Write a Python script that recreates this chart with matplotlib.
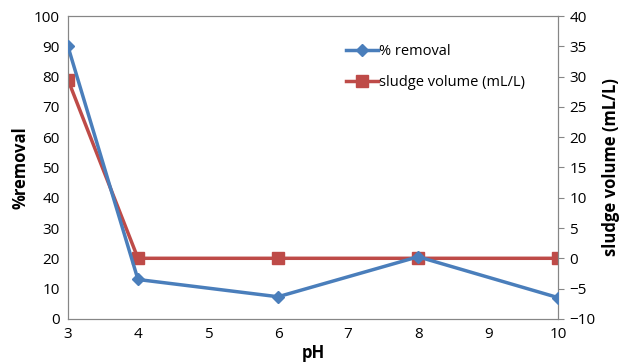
import matplotlib.pyplot as plt

plt.rcParams['font.family'] = ['Open Sans', 'DejaVu Sans']

ph = [3, 4, 6, 8, 10]
removal = [90, 13, 7.3, 20.5, 7]
sludge = [29.5, 0, 0, 0, 0]

blue = '#4a7ebb'
red = '#be4b48'
gray = '#868686'

fig = plt.figure(figsize=(6.23, 3.64), dpi=100)
ax = fig.add_axes([0.109, 0.124, 0.787, 0.832])
ax2 = ax.twinx()

l1, = ax.plot(ph, removal, color=blue, lw=2.5, marker='D', ms=6, label='% removal', zorder=3)
l2, = ax2.plot(ph, sludge, color=red, lw=2.5, marker='s', ms=8, label='sludge volume (mL/L)', zorder=2)
ax.set_zorder(ax2.get_zorder() + 1)
ax.patch.set_visible(False)

ax.set_xlim(3, 10)
ax.set_ylim(0, 100)
ax2.set_ylim(-10, 40)
ax.set_xticks(range(3, 11))
ax.set_yticks(range(0, 101, 10))
ax2.set_yticks(range(-10, 41, 5))

for a in (ax, ax2):
    for s in a.spines.values():
        s.set_color(gray)
    a.tick_params(labelsize=11, colors='black')
ax.tick_params(axis='both', length=0, pad=6)
ax2.tick_params(axis='y', length=4, color=gray, pad=4)

ax.set_xlabel('pH', fontsize=12, fontweight='bold', labelpad=1)
ax.set_ylabel('%removal', fontsize=12, fontweight='bold', labelpad=3)
ax2.set_ylabel('sludge volume (mL/L)', fontsize=12, fontweight='bold', labelpad=5)

ax.legend([l1, l2], ['% removal', 'sludge volume (mL/L)'], loc='upper left',
          bbox_to_anchor=(0.54, 0.95), frameon=False, fontsize=10.5,
          handlelength=2.2, handletextpad=0.1, labelspacing=1.1)

fig.savefig('out.png', dpi=100)
